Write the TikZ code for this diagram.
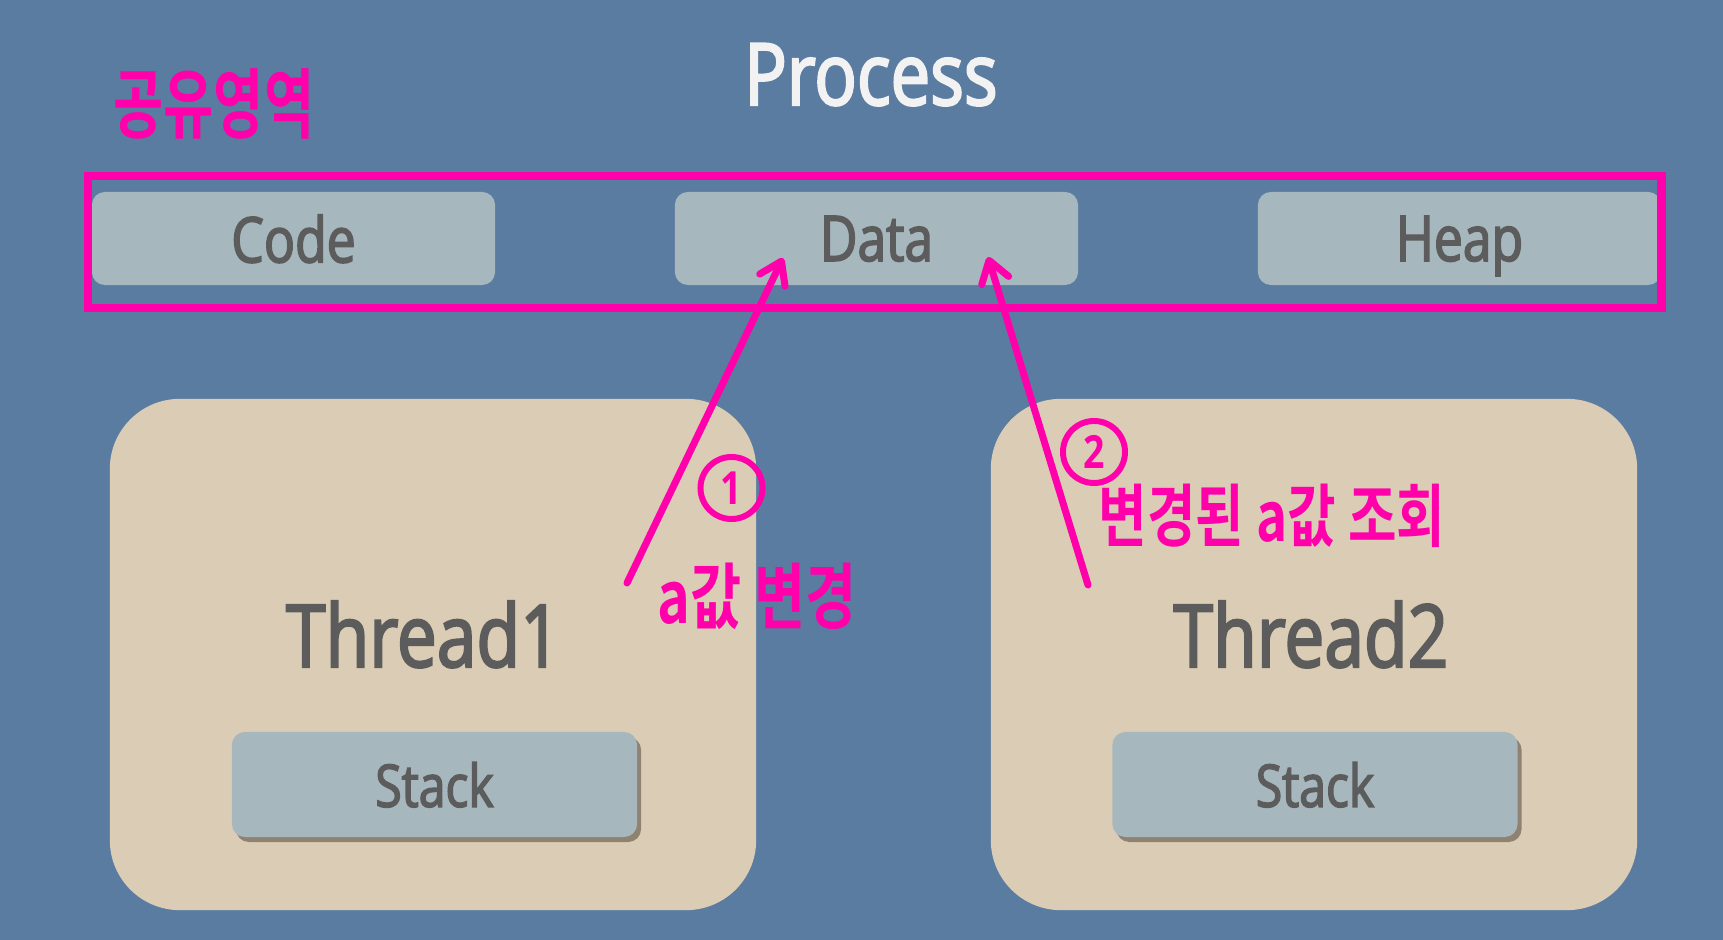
\documentclass[tikz,border=0pt]{standalone}
\usepackage{fontspec}
\setmainfont{Open Sans}[FakeStretch=0.82]
\newfontfamily\heavy{Open Sans}[FakeStretch=0.82, FakeBold=2.5]
\newfontfamily\kr{Noto Sans CJK KR}[BoldFont={* Bold}]
\usepackage{xcolor}
\usepackage{tikz}
\usetikzlibrary{arrows.meta,positioning,shadows}

\definecolor{bgblue}{RGB}{91,124,161}
\definecolor{boxgrey}{RGB}{166,183,189}
\definecolor{threadtan}{RGB}{219,205,181}
\definecolor{txtgrey}{RGB}{92,92,92}
\definecolor{memopink}{RGB}{255,0,170}
\definecolor{shadowbrown}{RGB}{125,112,96}

\tikzset{
  membox/.style={fill=boxgrey, rounded corners=1.3mm, minimum width=4.03cm, minimum height=0.93cm,
    inner sep=0pt, text=txtgrey, text depth=0pt, font=\heavy\fontsize{17.9}{20}\selectfont},
  threadbox/.style={fill=threadtan, rounded corners=7mm, minimum width=6.46cm, minimum height=5.11cm, inner sep=0pt},
  stackbox/.style={membox, minimum width=4.05cm, minimum height=1.05cm, font=\heavy\fontsize{16.7}{19}\selectfont,
    drop shadow={shadow xshift=0.4mm, shadow yshift=-0.5mm, fill=shadowbrown, opacity=0.8}},
  threadlabel/.style={anchor=base, text=txtgrey, font=\heavy\fontsize{24.7}{28}\selectfont},
  memo/.style={text=memopink, inner sep=0pt, font=\kr\bfseries\fontsize{15}{16}\selectfont},
  stepmark/.style={draw=memopink, line width=1.7pt, circle, minimum size=0.62cm, inner sep=0pt,
    text=memopink, font=\bfseries\fontsize{13}{14}\selectfont},
  scribble/.style={draw=memopink, line width=2pt, line cap=round,
    -{Straight Barb[length=2.1mm, width=2.8mm, round]}},
}

\begin{document}
\begin{tikzpicture}[x=0.01cm, y=-0.01cm]
    % canvas
    \useasboundingbox (0,0) rectangle (1723,940);
    \fill[bgblue] (0,0) rectangle (1723,940);

    % title
    \node[anchor=base, text=white!95!black, font=\heavy\fontsize{24.5}{27}\selectfont] (process) at (871,105) {Process};

    % shared memory segments
    \node[membox] (code) at (293.5,238.5) {Code};
    \node[membox] (data) at (876.5,238.5) {Data};
    \node[membox] (heap) at (1459.5,238.5) {Heap};

    % threads
    \node[threadbox] (thread1) at (433,654.5) {};
    \node[threadbox] (thread2) at (1314,654.5) {};
    \node[threadlabel] (t1label) at (423.5,667) {Thread1};
    \node[threadlabel] (t2label) at (1311,667) {Thread2};
    \node[stackbox] (stack1) at (434.5,784.5) {Stack};
    \node[stackbox] (stack2) at (1315,784.5) {Stack};

    % shared area marking
    \node[draw=memopink, line width=2.3pt, minimum width=15.73cm, minimum height=1.32cm, inner sep=0pt] (shared) at (874.5,242) {};
    \node[memo, font=\kr\bfseries\fontsize{15.5}{17}\selectfont] (sharedlabel) at (214,104) {\scalebox{1}[1.4]{공유영역}};

    % step 1: write a
    \coordinate (w1) at (627,583);
    \coordinate (w1tip) at (783,258);
    \draw[scribble] (w1) -- (w1tip);
    \node[stepmark] (s1) at (731.5,488) {1};
    \node[memo, font=\kr\bfseries\fontsize{15.8}{17}\selectfont] (writelabel) at (757,596) {\scalebox{1}[1.3]{a값 변경}};

    % step 2: read a
    \coordinate (r2) at (1088,585);
    \coordinate (r2tip) at (988,257);
    \draw[scribble] (r2) -- (r2tip);
    \node[stepmark] (s2) at (1094,452) {2};
    \node[memo] (readlabel) at (1272,516) {\scalebox{1}[1.3]{변경된 a값 조회}};
\end{tikzpicture}
\end{document}
